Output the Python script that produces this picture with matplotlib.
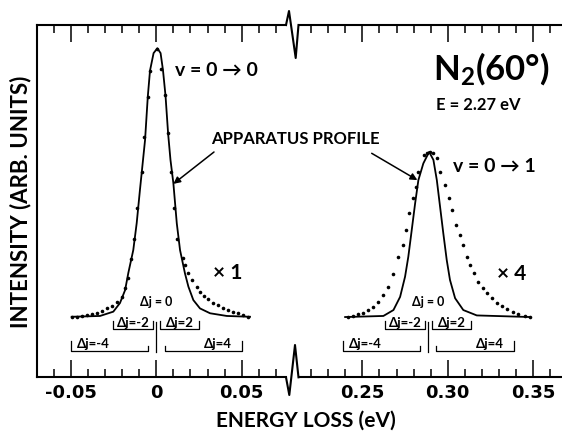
import matplotlib.pyplot as plt
from matplotlib.lines import Line2D
from matplotlib.ticker import FixedLocator, MultipleLocator

plt.rcParams['font.family'] = ['Lato', 'DejaVu Sans']
plt.rcParams['font.weight'] = 'bold'
plt.rcParams['mathtext.fontset'] = 'custom'
plt.rcParams['mathtext.rm'] = 'Lato'
plt.rcParams['mathtext.bf'] = 'Lato:bold'

# v = 0 -> 0 (x1), measured points
e00_dots = [-0.0496, -0.0467, -0.0437, -0.0408, -0.0379, -0.0349, -0.0320, -0.0291,
            -0.0261, -0.0232, -0.0203, -0.0183, -0.0164, -0.0148, -0.0131, -0.0111,
            -0.0086, -0.0070, -0.0050, -0.0037, 0.0002, 0.0028, 0.0051, 0.0069,
            0.0086, 0.0106, 0.0123, 0.0155, 0.0170, 0.0188, 0.0211, 0.0237, 0.0256,
            0.0280, 0.0305, 0.0334, 0.0363, 0.0389, 0.0419, 0.0451, 0.0481, 0.0510, 0.0539]
i00_dots = [0.1, 0.1, 0.4, 0.6, 1.1, 1.6, 2.3, 3.2,
            4.2, 5.5, 7.5, 10.7, 14.6, 21.6, 29.0, 40.4,
            54.0, 66.8, 81.9, 91.6, 99.6, 92.1, 82.5, 68.3,
            53.8, 40.4, 29.0, 21.8, 19.3, 16.2, 13.8, 11.3, 9.4,
            7.8, 6.6, 5.3, 4.3, 3.5, 2.6, 2.0, 1.4, 0.7, 0.1]

# v = 0 -> 0 apparatus profile
e00_prof = [-0.0496, -0.0330, -0.0252, -0.0213, -0.0183, -0.0164, -0.0135, -0.0115,
            -0.0096, -0.0066, -0.0050, -0.0037, -0.0016, 0.0006, 0.0025, 0.0039,
            0.0054, 0.0069, 0.0083, 0.0100, 0.0120, 0.0139, 0.0168, 0.0188, 0.0217,
            0.0256, 0.0315, 0.0413, 0.0549]
i00_prof = [0.1, 0.4, 2.0, 5.2, 10.0, 16.4, 24.9, 34.9,
            47.2, 65.8, 81.9, 91.6, 98.1, 99.9, 98.1, 91.8,
            82.2, 68.3, 58.4, 49.7, 34.8, 24.9, 16.2, 11.3, 6.3,
            3.2, 1.4, 0.4, 0.1]

# v = 0 -> 1 (x4), measured points
e01_dots = [0.2418, 0.2447, 0.2477, 0.2506, 0.2535, 0.2564, 0.2594, 0.2623, 0.2652,
            0.2682, 0.2711, 0.2737, 0.2756, 0.2775, 0.2795, 0.2814, 0.2828, 0.2861,
            0.2881, 0.2896, 0.2916, 0.2939, 0.2955, 0.2984, 0.3009, 0.3027, 0.3049,
            0.3072, 0.3088, 0.3111, 0.3131, 0.3154, 0.3179, 0.3205, 0.3228, 0.3258,
            0.3287, 0.3316, 0.3345, 0.3381, 0.3413, 0.3453, 0.3482]
i01_dots = [0.1, 0.5, 1.1, 1.6, 2.6, 3.8, 5.7, 8.2, 11.3,
            16.0, 22.4, 26.8, 32.3, 38.6, 44.1, 48.2, 54.0, 60.2,
            61.1, 61.3, 60.9, 59.0, 54.0, 49.1, 44.1, 39.8, 34.2,
            30.5, 26.8, 22.4, 19.3, 16.2, 13.1, 10.7, 8.8, 7.0,
            5.3, 4.1, 2.9, 2.0, 1.1, 0.5, 0.1]

# v = 0 -> 1 apparatus profile
e01_prof = [0.2399, 0.2623, 0.2682, 0.2721, 0.2750, 0.2769, 0.2789, 0.2809, 0.2828,
            0.2857, 0.2891, 0.2916, 0.2936, 0.2955, 0.2974, 0.2994, 0.3013, 0.3043,
            0.3091, 0.3170, 0.3482]
i01_prof = [0.0, 0.4, 2.6, 7.5, 15.0, 22.4, 32.3, 42.3, 50.9,
            57.1, 61.4, 58.4, 50.9, 41.0, 31.1, 21.2, 13.8, 7.0,
            2.6, 0.6, 0.0]

left_ticks = [-0.05, 0, 0.05]
left_labels = ["-0.05", "0", "0.05"]
right_ticks = [0.25, 0.30, 0.35]
right_labels = ["0.25", "0.30", "0.35"]

peak_centers = [0.0, 0.2886]
# rotational branches, energy range relative to the peak centre
dj_names = ["-2", "2", "-4", "4"]
dj_lo = [-0.0252, 0.0020, -0.0500, 0.0048]
dj_hi = [-0.0020, 0.0252, -0.0048, 0.0500]

W, H = 562, 432


def fx(px):
    return px / W


def fy(py):
    return 1 - py / H


fig = plt.figure(figsize=(5.62, 4.32), dpi=100)
axl = fig.add_axes([fx(36.7), fy(377.3), fx(286) - fx(36.7), fy(25) - fy(377.3)])
axr = fig.add_axes([fx(298.5), fy(377.3), 1 - fx(298.5), fy(25) - fy(377.3)])

for ax in (axl, axr):
    ax.set_ylim(-22.4, 108.55)
    ax.set_yticks([])
    ax.spines['right'].set_visible(False)
    for s in ax.spines.values():
        s.set_linewidth(1.5)
    ax.xaxis.set_minor_locator(MultipleLocator(0.01))
    ax.tick_params(axis='x', which='both', direction='in', top=True, bottom=True, width=1.1)
    ax.tick_params(axis='x', which='major', length=12, pad=5)
    ax.tick_params(axis='x', which='minor', length=5.8)
axr.spines['left'].set_visible(False)

axl.set_xlim(-0.0701, 0.0760)
axr.set_xlim(0.2126, 0.3669)
axl.xaxis.set_major_locator(FixedLocator(left_ticks))
axl.set_xticklabels(left_labels, fontsize=13, family='DejaVu Sans', fontweight='bold')
axr.xaxis.set_major_locator(FixedLocator(right_ticks))
axr.set_xticklabels(right_labels, fontsize=13, family='DejaVu Sans', fontweight='bold')

axl.plot(e00_prof, i00_prof, color='black', lw=1.3)
axl.plot(e00_dots, i00_dots, 'o', color='black', ms=2.6, mec='none')
axr.plot(e01_prof, i01_prof, color='black', lw=1.3)
axr.plot(e01_dots, i01_dots, 'o', color='black', ms=2.6, mec='none')

# Delta j brackets under each peak
for ax, c in zip((axl, axr), peak_centers):
    ax.plot([c, c], [-1.75, -12.9], color='black', lw=0.9)
    ax.text(c, 4.2, "Δj = 0", ha='center', va='baseline', fontsize=9)
    for name, lo, hi in zip(dj_names, dj_lo, dj_hi):
        if abs(int(name)) == 2:
            yl, yo, yi = -4.3, -1.5, -1.5
            ax.text(c + (lo + hi) / 2, -3.8, "Δj=" + name, ha='center', va='baseline', fontsize=9.5)
        else:
            yl, yo, yi = -12.6, -8.9, -10.8
            xt = c - 0.0368 if name == "-4" else c + 0.0362
            ax.text(xt, -11.4, "Δj=" + name, ha='center', va='baseline', fontsize=9.5)
        outer, inner = (lo, hi) if lo < 0 else (hi, lo)
        ax.plot([c + outer, c + outer, c + inner, c + inner], [yo, yl, yl, yi],
                color='black', lw=0.9)

# axis break marks
fig.add_artist(Line2D([fx(286), fx(289), fx(295.7), fx(298.5)],
                      [fy(25), fy(11), fy(58), fy(25)], color='black', lw=1.5))
fig.add_artist(Line2D([fx(286), fx(289.3), fx(295), fx(298.5)],
                      [fy(377.3), fy(395), fy(345), fy(377.3)], color='black', lw=1.5))

fig.text(fx(21), fy(202), "INTENSITY (ARB. UNITS)", rotation=90, ha='center', va='center', fontsize=16)
fig.text(fx(306), fy(426.7), "ENERGY LOSS (eV)", ha='center', va='baseline', fontsize=15)

fig.text(fx(175), fy(76.5), "v = 0 → 0", ha='left', va='baseline', fontsize=14)
fig.text(fx(453), fy(171.5), "v = 0 → 1", ha='left', va='baseline', fontsize=14)
fig.text(fx(213), fy(279), "× 1", ha='left', va='baseline', fontsize=15)
fig.text(fx(496.7), fy(280), "× 4", ha='left', va='baseline', fontsize=15)
fig.text(fx(433), fy(80), r"$\mathbf{N_2(60°)}$", ha='left', va='baseline', fontsize=25)
fig.text(fx(436), fy(110), "E = 2.27 eV", ha='left', va='baseline', fontsize=12)

fig.text(fx(211), fy(144.3), "APPARATUS PROFILE", ha='left', va='baseline', fontsize=12)
arrow = dict(arrowstyle='-|>', color='black', lw=1.1, mutation_scale=10, shrinkA=0, shrinkB=0)
axl.annotate("", xy=(0.0100, 49.5), xycoords='data',
             xytext=(fx(214), fy(152)), textcoords='figure fraction', arrowprops=arrow)
axr.annotate("", xy=(0.2822, 50.9), xycoords='data',
             xytext=(fx(371.7), fy(153.3)), textcoords='figure fraction', arrowprops=arrow)

fig.savefig("out.png", dpi=100)
